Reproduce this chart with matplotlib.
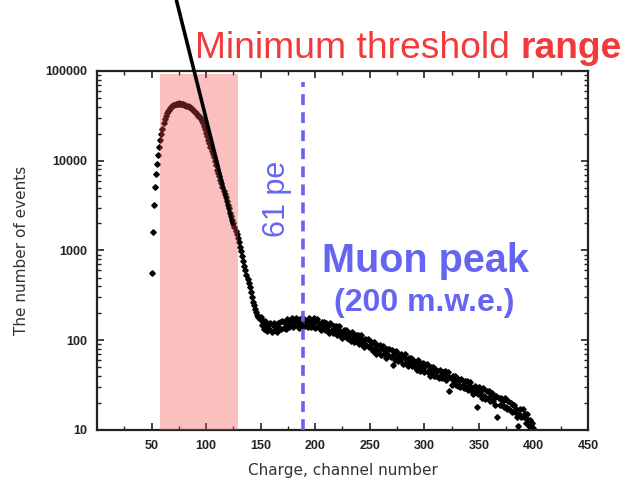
import numpy as np
import matplotlib
matplotlib.use("Agg")
import matplotlib.pyplot as plt
from matplotlib.ticker import FixedLocator, LogLocator, NullFormatter

# charge spectrum, one value per channel (50..400)
channel = np.arange(50, 401)
counts = [
    560, 1600, 3250, 5100, 7200, 9300, 11600, 14300, 17000, 20000,
    22800, 26000, 29000, 31500, 33800, 35500, 37000, 38400, 39500, 40500,
    41400, 42100, 42700, 43100, 43400, 43500, 43400, 43200, 42900, 42600,
    42200, 41700, 41200, 40600, 40000, 39400, 38700, 37900, 37000, 36100,
    35100, 34000, 32900, 31700, 30500, 29300, 28000, 26300, 24600, 22600,
    20600, 18800, 17100, 15600, 14200, 13000, 11900, 10900, 10000, 8900,
    7900, 7300, 6700, 6100, 5600, 5100, 4650, 4250, 3900, 3550,
    3250, 2950, 2650, 2400, 2200, 2000, 1820, 1660, 1520, 1380,
    1230, 1100, 980, 860, 760, 680, 600, 540, 480, 430,
    390, 345, 305, 270, 245, 222, 205, 190, 180, 172,
    181, 147, 161, 132, 165, 139, 127, 151, 132, 155,
    123, 146, 157, 129, 141, 123, 155, 138, 161, 134,
    163, 137, 156, 133, 172, 148, 139, 167, 147, 175,
    139, 165, 179, 146, 159, 137, 172, 152, 175, 144,
    174, 145, 164, 139, 177, 152, 141, 168, 148, 175,
    138, 163, 173, 140, 152, 129, 160, 140, 160, 130,
    156, 130, 145, 121, 154, 131, 121, 143, 124, 144,
    114, 135, 143, 115, 123, 105, 131, 113, 130, 105,
    125, 104, 116, 97, 123, 105, 96, 114, 99, 115,
    91, 107, 113, 91, 98, 84, 104, 89, 102, 83,
    99, 82, 92, 76, 96, 81, 70, 89, 76, 88,
    69, 82, 87, 71, 76, 64, 80, 69, 80, 65,
    77, 53, 71, 60, 76, 64, 59, 69, 61, 71,
    55, 65, 70, 56, 60, 51, 63, 55, 63, 51,
    61, 50, 56, 47, 60, 50, 46, 55, 48, 56,
    44, 51, 55, 44, 47, 40, 50, 43, 50, 40,
    48, 40, 45, 38, 47, 41, 38, 44, 39, 45,
    36, 41, 44, 27, 38, 32, 40, 35, 40, 32,
    38, 31, 35, 30, 37, 32, 29, 35, 29, 35,
    28, 32, 34, 28, 29, 25, 31, 27, 18, 25,
    30, 25, 27, 23, 29, 24, 22, 27, 23, 27,
    21, 25, 26, 21, 23, 19, 24, 14, 23, 19,
    23, 19, 21, 18, 23, 18, 17, 21, 17, 20,
    16, 19, 19, 16, 17, 14, 11, 15, 17, 14,
    17, 14, 15, 12, 15, 13, 11, 13, 11, 12,
    10.5,
]

threshold_lo, threshold_hi = 58, 129   # shaded "minimum threshold range"
shade_top = 92000
pe61_channel = 189                      # 61 pe marker
pe61_top = 75000
slope_x = [72.7, 124.2]                 # hand-drawn fit line
slope_y = [6.2e5, 1970]

xticks = [50, 100, 150, 200, 250, 300, 350, 400, 450]
yticks = [10, 100, 1000, 10000, 100000]

fig = plt.figure(figsize=(6.23, 4.8), dpi=100)
ax = fig.add_axes([0.1557, 0.1042, 0.7881, 0.7479])

ax.plot(channel, counts, ls="none", marker="D", ms=2.8, color="black", zorder=2)

ax.fill_between([threshold_lo, threshold_hi], 10, shade_top,
                color=(0.95, 0.3, 0.3), alpha=0.35, lw=0, zorder=3)

ax.plot([pe61_channel, pe61_channel], [10, pe61_top], color="#6464f0",
        lw=2.6, dashes=(3, 2), zorder=4)

ax.plot(slope_x, slope_y, color="black", lw=2.6, clip_on=False, zorder=5)

ax.set_yscale("log")
ax.set_xlim(0, 450)
ax.set_ylim(10, 100000)

ax.xaxis.set_major_locator(FixedLocator(xticks))
ax.xaxis.set_minor_locator(FixedLocator(np.arange(25, 450, 50)))
ax.set_xticklabels([str(t) for t in xticks])
ax.yaxis.set_major_locator(FixedLocator(yticks))
ax.yaxis.set_minor_locator(LogLocator(base=10, subs=np.arange(2, 10)))
ax.yaxis.set_minor_formatter(NullFormatter())
ax.set_yticklabels([str(t) for t in yticks])

ax.tick_params(which="both", direction="in", top=True, right=True, color="#222")
ax.tick_params(which="major", length=5, width=1.2, pad=7)
ax.tick_params(which="minor", length=3, width=1.0)
for lab in ax.get_xticklabels() + ax.get_yticklabels():
    lab.set_fontfamily("Liberation Sans")
    lab.set_fontweight("bold")
    lab.set_fontsize(9)
    lab.set_color("#222")
for sp in ax.spines.values():
    sp.set_linewidth(1.6)
    sp.set_color("#222")

ax.set_xlabel("Charge, channel number", fontsize=11, color="#333", labelpad=8)
ax.set_ylabel("The number of events", fontsize=11, color="#333", labelpad=12)

red = "#f23a3a"
fig.text(195 / 623, 1 - 58 / 480, "Minimum threshold ", color=red,
         fontsize=26.8, family="Liberation Sans", ha="left", va="baseline")
t1 = fig.text(0, 0, "Minimum threshold ", fontsize=26.8, family="Liberation Sans")
fig.canvas.draw()
w = t1.get_window_extent().width / 623
t1.remove()
fig.text(195 / 623 + w, 1 - 58 / 480, "range", color=red, fontsize=26.8,
         family="Liberation Sans", weight="bold", ha="left", va="baseline")

blue = "#6565f2"
fig.text(277 / 623, 1 - 199 / 480, "61 pe", color=blue, fontsize=22,
         family="Liberation Sans", rotation=90, ha="center", va="center")
fig.text(425 / 623, 1 - 272 / 480, "Muon peak", color=blue, fontsize=28.5,
         family="Liberation Sans", weight="bold", ha="center", va="baseline")
fig.text(424 / 623, 1 - 311 / 480, "(200 m.w.e.)", color=blue, fontsize=23,
         family="Liberation Sans", weight="bold", ha="center", va="baseline")

fig.savefig("out.png", dpi=100)
